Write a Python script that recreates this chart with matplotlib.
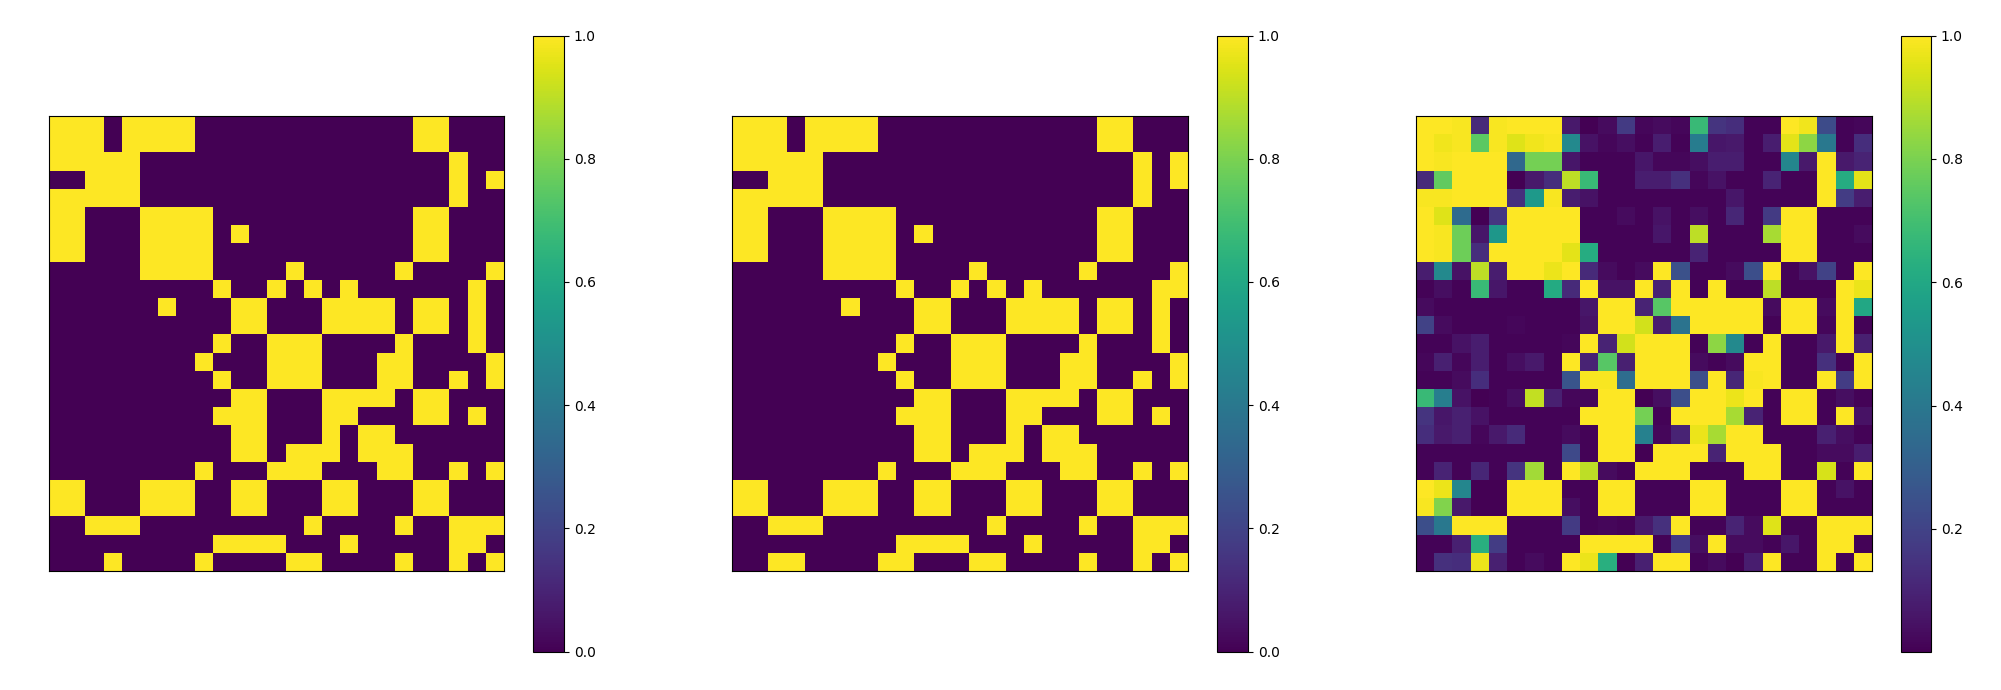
import numpy as np
import matplotlib
matplotlib.use("Agg")
import matplotlib.pyplot as plt

# adjacency matrix, 25x25, one string per row
adj_true = [
    "1110111100000000000011000",
    "1110111100000000000011000",
    "1111100000000000000000100",
    "0011100000000000000000101",
    "1111100000000000000000100",
    "1100011110000000000011000",
    "1100011110100000000011000",
    "1100011110000000000011000",
    "0000011110000100000100001",
    "0000000001001010100000010",
    "0000001000110001111011010",
    "0000000000110001111011010",
    "0000000001001110000100010",
    "0000000010001110001100001",
    "0000000001001110001100101",
    "0000000000110001111011000",
    "0000000001110001100011010",
    "0000000000110001011000000",
    "0000000000110111011100000",
    "0000000010001110001100101",
    "1100011100110001100011000",
    "1100011100110001100011000",
    "0011100000000010000100111",
    "0000000001111000100000110",
    "0001000010000110000100101",
]

adj_pred = [
    "1110111100000000000011000",
    "1110111100000000000011000",
    "1111100000000000000000101",
    "0011100000000000000000101",
    "1111100000000000000000100",
    "1100011110000000000011000",
    "1100011110100000000011000",
    "1100011110000000000011000",
    "0000011110000100000100001",
    "0000000001001010100000011",
    "0000001000110001111011010",
    "0000000000110001111011010",
    "0000000001001110000100010",
    "0000000010001110001100001",
    "0000000001001110001100101",
    "0000000000110001111011000",
    "0000000001110001100011010",
    "0000000000110001011000000",
    "0000000000110111011100000",
    "0000000010001110001100101",
    "1100011100110001100011000",
    "1100011100110001100011000",
    "0011100000000010000100111",
    "0000000001111000100000110",
    "0011000011000110000100101",
]

adj_prob = [
    [1, 1, .99, .12, .99, 1, 1, 1, .07, .001, .03, .17, .02, .03, .02, .68, .15, .13, .01, .01, 1, .98, .23, .01, .02],
    [1, .98, .99, .75, .99, .95, .98, .99, .47, .05, .02, .04, .01, .08, .01, .42, .06, .07, .01, .08, .96, .83, .40, .01, .13],
    [1, .99, 1, 1, 1, .34, .79, .79, .06, .01, .01, .01, .06, .02, .02, .04, .08, .08, .01, .01, .46, .07, 1, .07, .10],
    [.12, .76, 1, 1, 1, .001, .07, .13, .90, .68, .01, .01, .08, .08, .14, .02, .05, .01, .01, .10, .01, .01, 1, .62, .96],
    [.99, .99, 1, 1, 1, .14, .54, .99, .08, .05, .01, .01, .01, .01, .01, .01, .01, .06, .01, .01, .01, .01, 1, .18, .08],
    [1, .95, .35, .001, .16, 1, 1, 1, 1, .01, .01, .03, .01, .05, .01, .04, .01, .11, .01, .17, 1, 1, .01, .01, .01],
    [1, .99, .78, .06, .53, 1, 1, 1, 1, .01, .01, .01, .01, .06, .01, .90, .01, .01, .01, .87, 1, 1, .01, .01, .03],
    [1, .99, .78, .13, 1, 1, 1, 1, .96, .62, .01, .01, .01, .01, .01, .10, .01, .01, .01, .01, 1, 1, .01, .01, .01],
    [.08, .47, .05, .90, .08, 1, 1, .97, 1, .12, .03, .01, .03, 1, .25, .01, .01, .03, .24, 1, .01, .05, .20, .01, 1],
    [.01, .04, .01, .68, .06, .01, .01, .61, .12, 1, .05, .05, 1, .10, 1, .01, 1, .01, .01, .90, .01, .01, .01, 1, .97],
    [.03, .01, .01, .01, .01, .01, .01, .01, .01, .06, 1, 1, .10, .74, 1, 1, 1, 1, 1, .03, 1, 1, .03, 1, .60],
    [.20, .03, .01, .01, .01, .02, .01, .01, .01, .05, 1, 1, .93, .08, .38, 1, 1, 1, 1, .01, 1, 1, .02, 1, .01],
    [.01, .01, .05, .08, .01, .01, .01, .01, .02, 1, .10, .93, 1, 1, 1, .01, .83, .47, .01, 1, .01, .01, .07, 1, .09],
    [.02, .09, .02, .08, .01, .04, .07, .01, 1, .10, .74, .09, 1, 1, 1, .03, .01, .03, 1, 1, .01, .01, .14, .01, 1],
    [.01, .01, .03, .13, .01, .01, .01, .01, .26, .99, .99, .36, 1, 1, 1, .24, 1, .11, .99, 1, .01, .01, 1, .18, 1],
    [.68, .43, .05, .001, .01, .04, .91, .09, .02, .02, 1, 1, .001, .04, .24, 1, 1, .97, 1, .01, 1, 1, .01, .04, .01],
    [.15, .06, .09, .05, .01, .01, .01, .01, .01, 1, 1, 1, .79, .01, 1, 1, 1, .87, .10, .01, 1, 1, .01, 1, .05],
    [.13, .07, .09, .02, .07, .12, .01, .01, .03, .01, 1, 1, .44, .02, .10, .97, .87, 1, 1, .01, .01, .01, .09, .04, .01],
    [.01, .01, .01, .01, .01, .01, .01, .01, .22, .01, 1, 1, .001, 1, 1, 1, .10, 1, 1, 1, .01, .01, .03, .03, .08],
    [.01, .10, .01, .11, .01, .15, .86, .01, 1, .90, .03, .01, 1, 1, 1, .01, .01, .01, 1, 1, .01, .01, .94, .01, 1],
    [1, .97, .46, .001, .001, 1, 1, 1, .01, .01, 1, 1, .01, .01, .01, 1, 1, .01, .01, .01, 1, 1, .01, .05, .01],
    [.99, .81, .07, .001, .001, 1, 1, 1, .04, .01, 1, 1, .01, .01, .01, 1, 1, .01, .01, .01, 1, 1, .01, .01, .01],
    [.24, .40, 1, 1, 1, .01, .01, .01, .17, .01, .02, .01, .07, .14, 1, .01, .01, .10, .03, .95, .01, .01, 1, 1, 1],
    [.01, .01, .09, .63, .18, .01, .01, .01, .01, 1, 1, 1, 1, .01, .17, .04, 1, .03, .03, .01, .06, .01, 1, 1, .01],
    [.01, .14, .13, .97, .09, .01, .03, .01, 1, .97, .63, .001, .09, 1, 1, .01, .03, .001, .08, 1, .01, .01, 1, .01, 1],
]

W, H = 2001, 690


def px_axes(fig, left, right, top, bottom):
    return fig.add_axes([left / W, 1 - bottom / H, (right - left) / W, (bottom - top) / H])


def draw_panel(fig, data, ax_left, ax_right, cb_left, cb_right):
    ax = px_axes(fig, ax_left, ax_right, 115.6, 570.6)
    im = ax.imshow(data, cmap="viridis", aspect="auto")
    ax.set_xticks([])
    ax.set_yticks([])
    cax = px_axes(fig, cb_left, cb_right, 35.6, 651.6)
    fig.colorbar(im, cax=cax)
    return ax


if __name__ == "__main__":
    true_arr = np.array([[int(c) for c in row] for row in adj_true], dtype=float)
    pred_arr = np.array([[int(c) for c in row] for row in adj_pred], dtype=float)
    prob_arr = np.array(adj_prob, dtype=float)

    fig = plt.figure(figsize=(W / 100, H / 100), dpi=100)
    draw_panel(fig, true_arr, 49, 504, 533, 564)
    draw_panel(fig, pred_arr, 732, 1188, 1217, 1248)
    draw_panel(fig, prob_arr, 1416, 1872, 1901, 1931)
    fig.savefig("out.png", dpi=100)
